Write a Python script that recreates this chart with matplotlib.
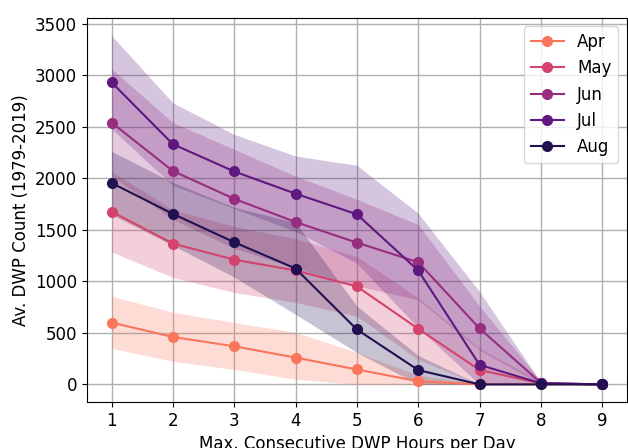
import numpy as np
import matplotlib
matplotlib.use("Agg")
import matplotlib.pyplot as plt

hours = [1, 2, 3, 4, 5, 6, 7, 8, 9]
months = ["Apr", "May", "Jun", "Jul", "Aug"]
colors = ["#f8765c", "#d3436e", "#982d80", "#5f187f", "#221150"]

apr_mean = [600, 460, 370, 260, 145, 30, 0, 0, 0]
apr_low = [350, 225, 145, 50, 0, 0, 0, 0, 0]
apr_high = [855, 700, 600, 505, 310, 90, 5, 0, 0]

may_mean = [1676, 1366, 1210, 1105, 950, 540, 140, 10, 0]
may_low = [1285, 1037, 892, 795, 662, 240, 0, 0, 0]
may_high = [2063, 1695, 1530, 1415, 1240, 840, 350, 30, 0]

jun_mean = [2540, 2070, 1800, 1575, 1375, 1185, 543, 15, 0]
jun_low = [2020, 1600, 1320, 1130, 955, 820, 330, 0, 0]
jun_high = [3060, 2540, 2280, 2020, 1795, 1550, 760, 30, 0]

jul_mean = [2930, 2330, 2065, 1850, 1650, 1105, 190, 10, 0]
jul_low = [2480, 1930, 1705, 1485, 1175, 550, 0, 0, 0]
jul_high = [3385, 2730, 2425, 2215, 2125, 1660, 900, 20, 0]

aug_mean = [1954, 1654, 1379, 1124, 533, 139, 0, 0, 0]
aug_low = [1648, 1348, 1041, 679, 310, 0, 0, 0, 0]
aug_high = [2260, 1960, 1717, 1570, 760, 280, 0, 0, 0]

means = [apr_mean, may_mean, jun_mean, jul_mean, aug_mean]
lows = [apr_low, may_low, jun_low, jul_low, aug_low]
highs = [apr_high, may_high, jun_high, jul_high, aug_high]

fig, ax = plt.subplots(figsize=(6.28, 4.48), dpi=100)
fig.subplots_adjust(left=0.1385, right=0.998, bottom=0.103, top=0.96)

for name, c, m, lo, hi in zip(months, colors, means, lows, highs):
    ax.fill_between(hours, lo, hi, color=c, alpha=0.25, linewidth=0)
    ax.plot(hours, m, "-o", color=c, label=name, linewidth=1.5, markersize=7)

ax.grid(True, color="#b0b0b0", linewidth=1)
ax.set_axisbelow(True)
ax.set_xticks(hours)
ax.tick_params(labelsize=12)
ax.set_xlabel("Max. Consecutive DWP Hours per Day", fontsize=12)
ax.set_ylabel("Av. DWP Count (1979-2019)", fontsize=12)
ax.legend(loc="upper right", fontsize=12)

fig.savefig("out.png", dpi=100)
